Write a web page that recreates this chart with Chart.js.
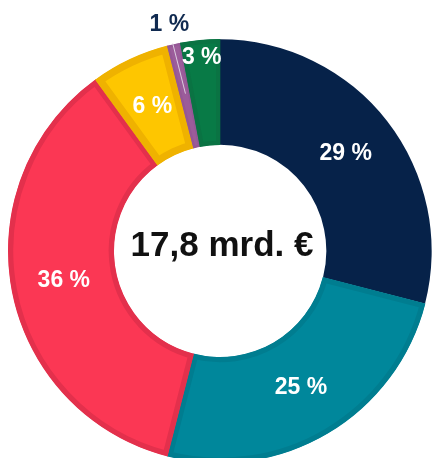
<!DOCTYPE html>
<html>
<head>
<meta charset="utf-8">
<script src="https://cdn.jsdelivr.net/npm/chart.js@4.4.1/dist/chart.umd.min.js"></script>
<style>
  html, body { margin: 0; padding: 0; background: #ffffff; overflow: hidden; }
  #wrap { position: absolute; left: 0; top: 0; width: 440px; height: 470px; }
</style>
</head>
<body>
<div id="wrap"><canvas id="c"></canvas></div>
<script>
// ---- data ----
const values = [29, 25, 36, 6, 1, 3];
const percentLabels = values.map(v => v + ' %');
const totalLabel = '17,8 mrd. €';

// ---- styles ----
const fillColors   = ['#062249', '#00879b', '#fb3754', '#fec600', '#9b5c9a', '#087a46'];
const borderColors = ['#062249', '#007d90', '#e3304c', '#efb200', '#955796', '#0a7343'];
const borderWidths = [0, 5, 5, 7, 2, 4];
const labelColors  = ['#ffffff', '#ffffff', '#ffffff', '#ffffff', '#102a50', '#ffffff'];
// radial placement of each label: fraction between inner (0) and outer (1) radius; >1 = outside
const labelRadial  = [0.5, 0.5, 0.5, 0.5, 1.19, 0.83];

const labelPlugin = {
  id: 'sliceLabels',
  afterDatasetsDraw(chart) {
    const ctx = chart.ctx;
    const meta = chart.getDatasetMeta(0);
    ctx.save();
    ctx.font = 'bold 23px "Liberation Sans", Arial, sans-serif';
    ctx.textAlign = 'center';
    ctx.textBaseline = 'middle';
    meta.data.forEach((arc, i) => {
      const p = arc.getProps(['x', 'y', 'startAngle', 'endAngle', 'innerRadius', 'outerRadius'], true);
      const mid = (p.startAngle + p.endAngle) / 2;
      const r = p.innerRadius + (p.outerRadius - p.innerRadius) * labelRadial[i];
      const lx = p.x + Math.cos(mid) * r;
      const ly = p.y + Math.sin(mid) * r;
      if (labelRadial[i] > 1) {
        ctx.strokeStyle = 'rgba(225,215,230,0.9)';
        ctx.lineWidth = 1;
        ctx.beginPath();
        const r1 = p.outerRadius + 1;
        const r2 = p.innerRadius + (p.outerRadius - p.innerRadius) * 0.52;
        ctx.moveTo(p.x + Math.cos(mid - 0.004) * r1, p.y + Math.sin(mid - 0.004) * r1);
        ctx.lineTo(p.x + Math.cos(mid + 0.004) * r2, p.y + Math.sin(mid + 0.004) * r2);
        ctx.stroke();
      }
      ctx.fillStyle = labelColors[i];
      ctx.fillText(percentLabels[i], lx, ly);
    });
    const a = meta.data[0];
    ctx.fillStyle = '#111111';
    ctx.font = 'bold 35px "Liberation Sans", Arial, sans-serif';
    ctx.textBaseline = 'alphabetic';
    ctx.fillText(totalLabel, a.x + 2, a.y + 5);
    ctx.restore();
  }
};

new Chart(document.getElementById('c'), {
  type: 'doughnut',
  data: {
    labels: percentLabels,
    datasets: [{
      data: values,
      backgroundColor: fillColors,
      borderColor: borderColors,
      borderWidth: borderWidths,
      borderAlign: 'inner',
      hoverOffset: 0,
      hoverBorderWidth: 0
    }]
  },
  options: {
    responsive: true,
    maintainAspectRatio: false,
    animation: false,
    events: [],
    cutout: '50%',
    layout: { padding: { left: 8, right: 8, top: 39, bottom: 7 } },
    plugins: {
      legend: { display: false },
      tooltip: { enabled: false }
    }
  },
  plugins: [labelPlugin]
});
</script>
</body>
</html>
